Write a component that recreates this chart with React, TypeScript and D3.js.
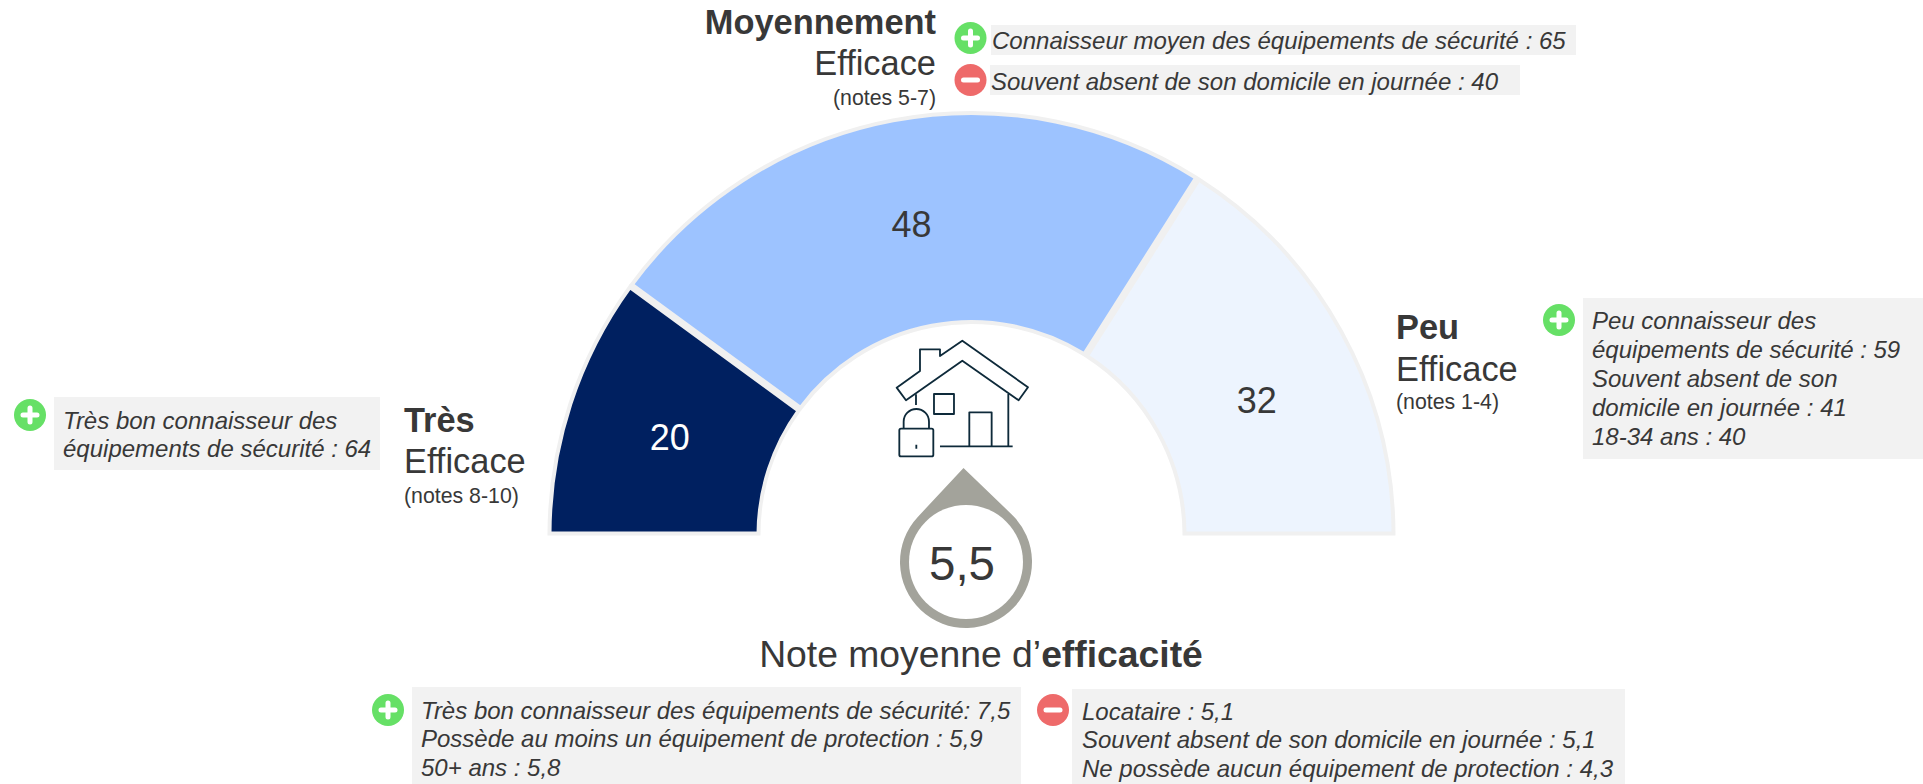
import React from "react";
import * as d3 from "d3";

const segmentNames = ["Très", "Moyennement", "Peu"];
const segmentValues = [20, 48, 32];
const segmentColors = ["#002060", "#9DC3FF", "#EDF4FE"];
const averageNote = "5,5";
const topPlus = ["Connaisseur moyen des équipements de sécurité : 65"];
const topMinus = ["Souvent absent de son domicile en journée : 40"];
const leftPlus = ["Très bon connaisseur des", "équipements de sécurité : 64"];
const rightPlus = ["Peu connaisseur des", "équipements de sécurité : 59", "Souvent absent de son", "domicile en journée : 41", "18-34 ans : 40"];
const bottomPlus = ["Très bon connaisseur des équipements de sécurité: 7,5", "Possède au moins un équipement de protection : 5,9", "50+ ans : 5,8"];
const bottomMinus = ["Locataire : 5,1", "Souvent absent de son domicile en journée : 5,1", "Ne possède aucun équipement de protection : 4,3"];

const FONT = "'Liberation Sans', Arial, sans-serif";
const INK = "#383838";
const cx = 971.5, cy = 535, outer = 422, inner = 213;
const labelNudge = [[0, 1], [-1, 1], [7, 18]];

const pie = d3.pie<number>().sort(null).startAngle(-Math.PI / 2).endAngle(Math.PI / 2).padAngle(0.008);
const arc = d3.arc<d3.PieArcDatum<number>>().innerRadius(inner).outerRadius(outer).padRadius(400);

function Sign({ x, y, plus }: { x: number; y: number; plus: boolean }) {
  return (
    <g transform={`translate(${x},${y})`}>
      <circle r={16} fill={plus ? "#66E066" : "#EE6A6A"} />
      <path d={plus ? "M-7,0H7M0,-7V7" : "M-7,0H7"} stroke="#fff" strokeWidth={5} strokeLinecap="round" />
    </g>
  );
}

function Note({ box, x, baselines, lines, size }: { box: number[]; x: number; baselines: number[]; lines: string[]; size: number }) {
  return (
    <g>
      <rect x={box[0]} y={box[1]} width={box[2] - box[0]} height={box[3] - box[1]} fill="#F2F2F2" />
      {lines.map((l, i) => (
        <text key={i} x={x} y={baselines[i]} fontSize={size} fontStyle="italic" fill={INK}>{l}</text>
      ))}
    </g>
  );
}

function Head({ x, ys, name, anchor, note }: { x: number; ys: number[]; name: string; anchor: string; note: string }) {
  return (
    <g textAnchor={anchor} fill={INK}>
      <text x={x} y={ys[0]} fontSize={34.4} fontWeight="bold">{name}</text>
      <text x={x} y={ys[1]} fontSize={34.4}>Efficace</text>
      <text x={x} y={ys[2]} fontSize={21.3}>{note}</text>
    </g>
  );
}

function HouseIcon() {
  return (
    <g transform="translate(800,300) scale(0.3333)" fill="none" stroke="#0E2A3A" strokeWidth={5.5} strokeLinejoin="round">
      <path d="M290,263L360,213V148H420V168L487,122L684,262L656,301L487,182L318,301Z" />
      <path d="M348,283V315M625,282V438M508,438V337H575V438M420,439H638M311,386V365A38,38 0 0 1 387,365V386M349,434V446" />
      <rect x={402} y={282} width={60} height={60} />
      <rect x={298} y={386} width={102} height={83} rx={5} />
    </g>
  );
}

function Drop() {
  const c = [966, 562], R = 66, r = 57, apex = [963.5, 468];
  const dx = apex[0] - c[0], dy = apex[1] - c[1];
  const d = Math.hypot(dx, dy);
  const base = Math.atan2(dy, dx), off = Math.acos(R / d);
  const p = (a: number) => [c[0] + R * Math.cos(a), c[1] + R * Math.sin(a)];
  const a1 = p(base + off), a2 = p(base - off);
  return (
    <g>
      <defs>
        <filter id="soft" x="-10%" y="-10%" width="120%" height="120%">
          <feGaussianBlur stdDeviation="0.7" />
        </filter>
      </defs>
      <path d={`M${apex}L${a1}A${R},${R} 0 1 1 ${a2}Z`} fill="#A3A39B" />
      <circle cx={c[0]} cy={c[1]} r={r} fill="#fff" filter="url(#soft)" />
      <text x={962} y={580} fontSize={47.5} textAnchor="middle" fill={INK}>{averageNote}</text>
    </g>
  );
}

export default function App() {
  const arcs = pie(segmentValues);
  return (
    <svg width={1923} height={784} style={{ position: "absolute", left: 0, top: 0 }} fontFamily={FONT}>
      <g transform={`translate(${cx},${cy})`}>
        {arcs.map((a, i) => (
          <path key={segmentNames[i]} d={arc(a) as string} fill={segmentColors[i]} stroke="#F0F0F0" strokeWidth={4} />
        ))}
        {arcs.map((a, i) => {
          const [x, y] = arc.centroid(a);
          return (
            <text key={i} x={x + labelNudge[i][0]} y={y + labelNudge[i][1]} dy="0.35em" fontSize={36} textAnchor="middle" fill={i === 0 ? "#fff" : INK}>
              {segmentValues[i]}
            </text>
          );
        })}
      </g>
      <HouseIcon />
      <Drop />
      <text x={981} y={667} fontSize={37.3} textAnchor="middle" fill={INK}>
        Note moyenne d’<tspan fontWeight="bold">efficacité</tspan>
      </text>

      <Head x={936} ys={[34, 75, 105]} name={segmentNames[1]} anchor="end" note="(notes 5-7)" />
      <Head x={404} ys={[432, 473, 503]} name={segmentNames[0]} anchor="start" note="(notes 8-10)" />
      <Head x={1396} ys={[339, 381, 409]} name={segmentNames[2]} anchor="start" note="(notes 1-4)" />

      <Note box={[991, 25, 1576, 55]} x={992} baselines={[49]} lines={topPlus} size={24} />
      <Note box={[990, 65, 1520, 95]} x={991} baselines={[90]} lines={topMinus} size={24} />
      <Sign x={970.5} y={38} plus />
      <Sign x={970.5} y={80} plus={false} />

      <Note box={[54, 397, 380, 470]} x={63} baselines={[429, 457]} lines={leftPlus} size={24} />
      <Sign x={30} y={415} plus />

      <Note box={[1583, 298, 1923, 459]} x={1592} baselines={[329, 358, 387, 416, 445]} lines={rightPlus} size={24} />
      <Sign x={1559} y={320} plus />

      <Note box={[412, 687, 1021, 784]} x={421} baselines={[719, 747, 776]} lines={bottomPlus} size={24} />
      <Sign x={388} y={710} plus />
      <Note box={[1072, 689, 1625, 784]} x={1082} baselines={[720, 748, 777]} lines={bottomMinus} size={24} />
      <Sign x={1053} y={710} plus={false} />
    </svg>
  );
}
